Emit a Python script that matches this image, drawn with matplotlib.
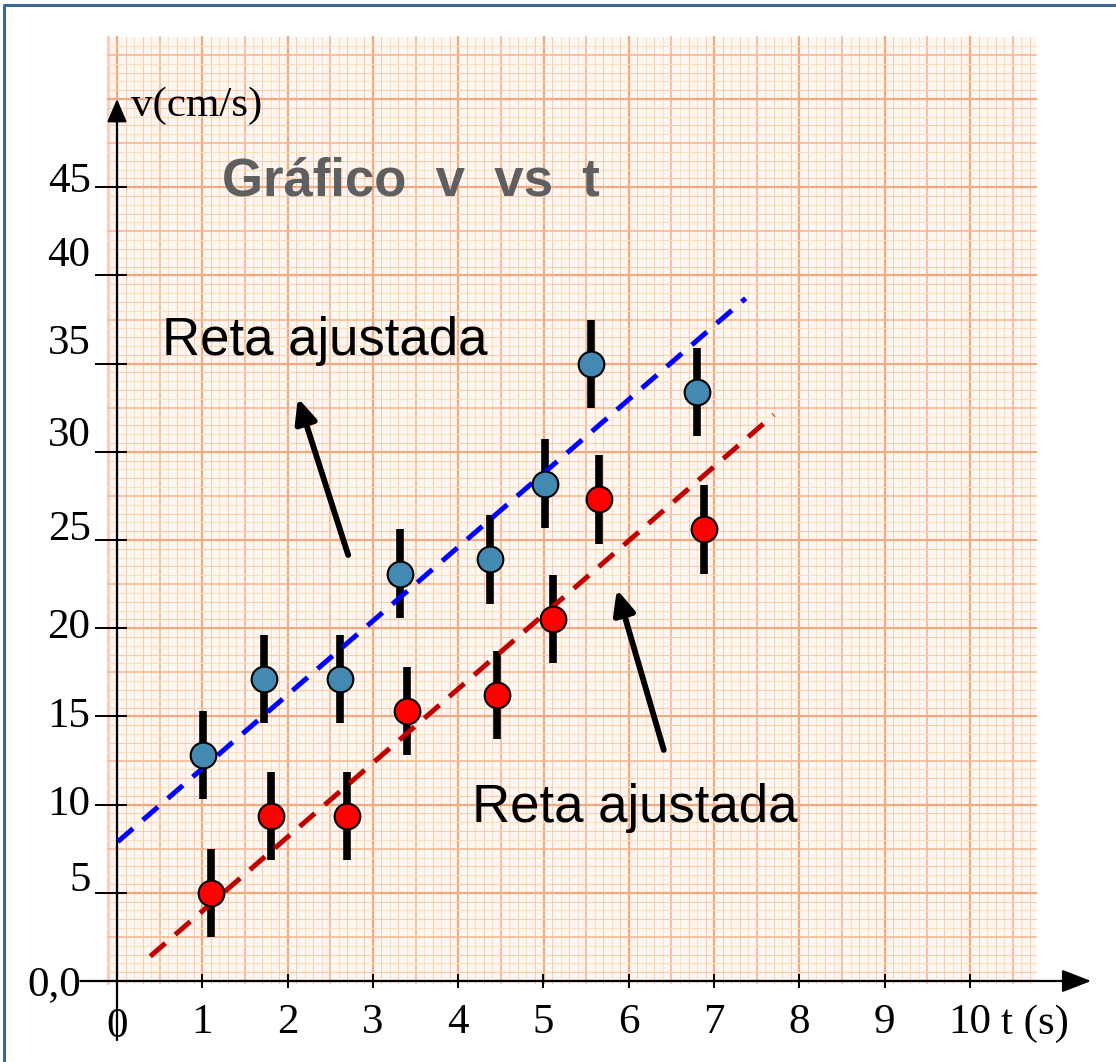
import matplotlib
matplotlib.use("Agg")
import matplotlib.pyplot as plt
import numpy as np

# measured data, t in s, v in cm/s
t_blue = [1.01, 1.72, 2.61, 3.32, 4.37, 5.02, 5.56, 6.80]
v_blue = [12.8, 17.1, 17.1, 23.1, 23.9, 28.2, 35.0, 33.4]
t_red = [1.10, 1.81, 2.70, 3.40, 4.46, 5.11, 5.65, 6.88]
v_red = [5.0, 9.35, 9.35, 15.3, 16.2, 20.5, 27.3, 25.6]
v_err = 2.5

# fitted lines (end points)
fit_blue_t = [0.01, 7.37]
fit_blue_v = [7.9, 38.7]
fit_red_t = [0.39, 7.70]
fit_red_v = [1.4, 32.1]

x_ticks = [1, 2, 3, 4, 5, 6, 7, 8, 9, 10]
y_ticks = [5, 10, 15, 20, 25, 30, 35, 40, 45]
y_label_nudge = [0.7, 0.0, 0.0, 0.0, 0.6, 0.9, 1.1, 1.1, 0.3]

# annotation arrows (tail -> tip)
arrow_tails = [(2.71, 24.15), (6.41, 13.1)]
arrow_tips = [(2.12, 33.05), (5.86, 22.2)]

W, H = 1116, 1062
X0, Y0 = 117, 981          # pixel position of origin
SX, SY = 85.3, 17.64       # pixels per unit

fig = plt.figure(figsize=(W / 100, H / 100), dpi=100)
ax = fig.add_axes([0, 0, 1, 1])
ax.set_xlim(-X0 / SX, (W - X0) / SX)
ax.set_ylim((Y0 - H) / SY, Y0 / SY)
ax.axis("off")

serif = "Liberation Serif"
sans = "Liberation Sans"
num_size = 31

# frame around the picture
ax.plot([-X0 / SX + 4 / SX, -X0 / SX + 4 / SX, 20], [(Y0 - H) / SY - 1, (Y0 - 5) / SY, (Y0 - 5) / SY],
        color="#3f6890", lw=2.2, clip_on=False, zorder=1)

# graph paper
p_left, p_right, p_bottom, p_top = -0.105, 10.77, -0.1, 53.5


def paper_style(k, mid, major):
    if k % major == 0:
        return "#f4a97e", 1.6
    if k % mid == 0:
        return "#f6b890", 1.2
    return ("#f9cdab" if k % 2 else "#fcdfb6"), 0.75


ax.fill_between([p_left, p_right], p_bottom, p_top, color="#fef6f3", zorder=0, lw=0)
ax.plot([p_left, p_left], [p_bottom, p_top], color="#f7d3d3", lw=2.5, zorder=0.5)
for xv in np.arange(-0.1, 10.75, 0.1):
    c, lw = paper_style(int(round(xv * 10)), 5, 10)
    ax.plot([xv, xv], [p_bottom, p_top], color=c, lw=lw, zorder=0.5)
for yv in np.arange(0.0, 53.4, 0.5):
    c, lw = paper_style(int(round(yv * 2)), 5, 10)
    ax.plot([p_left, p_right], [yv, yv], color=c, lw=lw, zorder=0.5)

# axes with arrows
ax.annotate("", xy=(11.42, 0), xytext=(-0.43, 0),
            arrowprops=dict(arrowstyle="-|>,head_length=0.9,head_width=0.35", lw=1.6,
                            color="black", mutation_scale=20, shrinkA=0, shrinkB=0), zorder=3)
ax.annotate("", xy=(0, 50.0), xytext=(0, -3.35),
            arrowprops=dict(arrowstyle="-|>,head_length=0.7,head_width=0.3", lw=1.6,
                            color="black", mutation_scale=20, shrinkA=0, shrinkB=0), zorder=3)

for xt in x_ticks:
    ax.plot([xt, xt], [-0.35, 0.35], color="black", lw=1.4, zorder=3)
    ax.text(xt, -2.35, str(xt), ha="center", va="center", fontsize=num_size, family=serif)
ax.text(0, -2.6, "0", ha="center", va="center", fontsize=num_size, family=serif)
ax.text(10.36, -2.45, "t (s)", ha="left", va="center", fontsize=num_size, family=serif)

for yt, dy in zip(y_ticks, y_label_nudge):
    ax.plot([-0.25, 0.1], [yt, yt], color="black", lw=1.4, zorder=3)
    ax.text(-0.31, yt + dy, str(yt), ha="right", va="center", fontsize=num_size, family=serif)
ax.text(-0.42, -0.2, "0,0", ha="right", va="center", fontsize=num_size, family=serif)
ax.text(0.16, 49.6, "v(cm/s)", ha="left", va="center", fontsize=num_size, family=serif)

# fitted lines
ax.plot(fit_blue_t, fit_blue_v, color="#0000ff", lw=3.6, dashes=(4, 2.6), zorder=5)
ax.plot(fit_red_t, fit_red_v, color="#c00000", lw=3.6, dashes=(4, 2.6), zorder=5)

# data with error bars
ax.errorbar(t_blue, v_blue, yerr=v_err, fmt="none", ecolor="black", elinewidth=5.5, zorder=4)
ax.errorbar(t_red, v_red, yerr=v_err, fmt="none", ecolor="black", elinewidth=5.5, zorder=4)
ax.plot(t_blue, v_blue, "o", ms=18.5, mfc="#4389b2", mec="black", mew=1.5, zorder=6)
ax.plot(t_red, v_red, "o", ms=18.5, mfc="#ff0000", mec="black", mew=1.5, zorder=6)

# annotations
for tail, tip in zip(arrow_tails, arrow_tips):
    ax.annotate("", xy=tip, xytext=tail,
                arrowprops=dict(arrowstyle="-|>,head_length=0.6,head_width=0.27", lw=4.2,
                                color="black", mutation_scale=24, shrinkA=0, shrinkB=0), zorder=7)

ax.text(0.53, 36.3, "Reta ajustada", ha="left", va="center", fontsize=38, family=sans)
ax.text(4.16, 9.8, "Reta ajustada", ha="left", va="center", fontsize=38, family=sans)
ax.text(1.23, 45.3, "Gráfico  v  vs  t", ha="left", va="center", fontsize=38,
        family=sans, fontweight="bold", color="#5f5f5f")

fig.savefig("out.png", dpi=100)
